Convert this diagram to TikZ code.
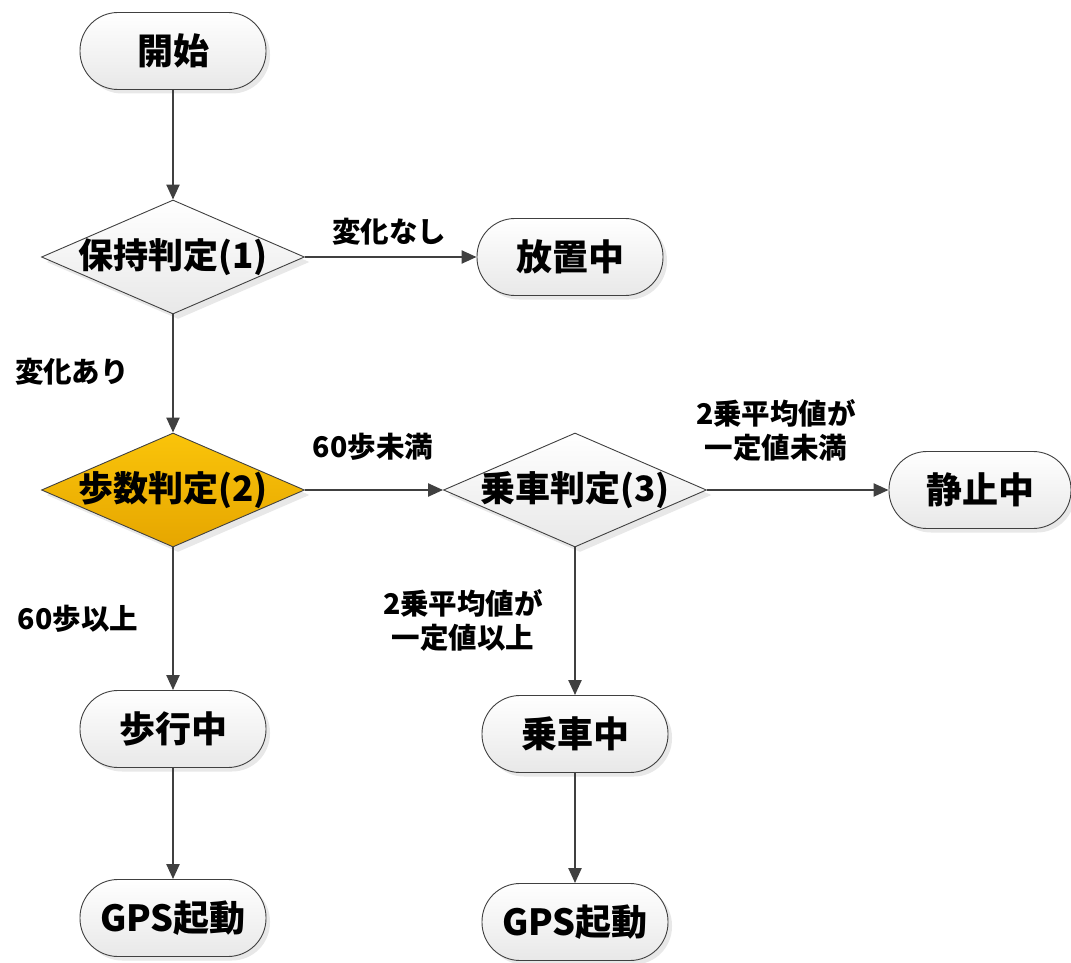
\documentclass[tikz,border=0pt]{standalone}
\usepackage{fontspec}
\setmainfont{Noto Sans CJK JP}
\usetikzlibrary{shapes.geometric,shadows,arrows.meta}
\definecolor{edgegray}{RGB}{64,64,64}
\definecolor{yel1}{RGB}{250,196,10}
\definecolor{yel2}{RGB}{230,166,0}
\definecolor{termbot}{RGB}{232,232,232}
\tikzset{
  term/.style={draw=edgegray, line width=0.9pt, rounded corners=38pt, minimum width=186pt, minimum height=77pt, inner sep=0pt,
    top color=white, bottom color=termbot, font=\fontsize{36}{40}\selectfont\bfseries,
    drop shadow={shadow xshift=4pt, shadow yshift=-4pt, opacity=0.18, fill=gray}},
  decide/.style={diamond, draw=edgegray, line width=0.9pt, minimum width=263pt, minimum height=114pt, inner sep=0pt,
    top color=white, bottom color=termbot,
    drop shadow={shadow xshift=5pt, shadow yshift=-5pt, opacity=0.18, fill=gray}},
  decideyel/.style={decide, top color=yel1, bottom color=yel2},
  dtext/.style={font=\fontsize{35}{40}\selectfont\bfseries, inner sep=0pt},
  lbl/.style={font=\fontsize{28.5}{34}\selectfont\bfseries, align=center, inner sep=0pt},
  conn/.style={draw=edgegray, line width=2.3pt, -{Triangle[length=15pt,width=13pt]}},
}
\begin{document}
\begin{tikzpicture}[x=1pt,y=-1pt]
\useasboundingbox (0,0) rectangle (1071,963);
\node[term] (start) at (173,51) {開始};
\node[decide] (d1) at (173,257) {};
\node[dtext] (d1t) at (173,257) {保持判定(1)};
\node[term] (idle) at (570,257) {放置中};
\node[decideyel] (d2) at (173,490) {};
\node[dtext] (d2t) at (173,490) {歩数判定(2)};
\node[decide] (d3) at (575,490) {};
\node[dtext] (d3t) at (575,490) {乗車判定(3)};
\node[term, minimum width=182pt] (still) at (980,490) {静止中};
\node[term] (walk) at (173,729) {歩行中};
\node[term] (ride) at (575,734) {乗車中};
\node[term] (gps1) at (173,918) {GPS起動};
\node[term] (gps2) at (575,922) {GPS起動};

\draw[conn] (start) -- (d1);
\draw[conn] (d1) -- (idle);
\draw[conn] (d1) -- (d2);
\draw[conn] (d2) -- (d3);
\draw[conn] (d3) -- (still);
\draw[conn] (d2) -- (walk);
\draw[conn] (d3) -- (ride);
\draw[conn] (walk) -- (gps1);
\draw[conn] (ride) -- (gps2);

\node[lbl] (l1) at (389,232) {変化なし};
\node[lbl] (l2) at (72,372) {変化あり};
\node[lbl] (l3) at (373,447) {60歩未満};
\node[lbl] (l4) at (776,430) {2乗平均値が\\一定値未満};
\node[lbl] (l5) at (463,620) {2乗平均値が\\一定値以上};
\node[lbl] (l6) at (78,619) {60歩以上};
\end{tikzpicture}
\end{document}
